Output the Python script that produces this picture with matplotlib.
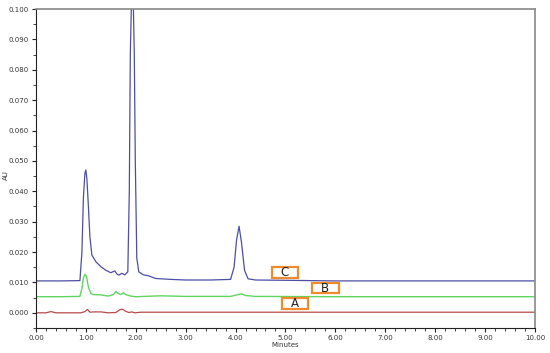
import matplotlib
matplotlib.use("Agg")
import matplotlib.pyplot as plt
from matplotlib.patches import Rectangle
from matplotlib.ticker import MultipleLocator, FormatStrFormatter

# Trace C (blue)
t_c = [0.0, 0.5, 0.88, 0.92, 0.95, 0.98, 1.0, 1.02, 1.05, 1.08, 1.12, 1.2, 1.3, 1.4, 1.5,
       1.58, 1.62, 1.66, 1.72, 1.78, 1.84, 1.87, 1.89, 1.91, 1.93, 1.95, 1.97, 1.99, 2.02,
       2.06, 2.15, 2.25, 2.4, 2.7, 3.0, 3.5, 3.9, 3.97, 4.02, 4.07, 4.12, 4.18, 4.25, 4.4,
       5.0, 6.0, 8.0, 10.0]
y_c = [0.0105, 0.0105, 0.0106, 0.020, 0.038, 0.046, 0.047, 0.044, 0.035, 0.025, 0.019, 0.0168,
       0.0152, 0.0140, 0.0132, 0.0138, 0.0128, 0.0124, 0.0130, 0.0125, 0.0135, 0.040, 0.085,
       0.100, 0.110, 0.102, 0.085, 0.050, 0.018, 0.0135, 0.0125, 0.0122, 0.0113, 0.0110, 0.0108,
       0.0108, 0.0110, 0.0150, 0.0240, 0.0285, 0.0230, 0.0140, 0.0112, 0.0108, 0.0107, 0.0105,
       0.0105, 0.0105]

# Trace B (green)
t_b = [0.0, 0.5, 0.88, 0.92, 0.95, 0.98, 1.01, 1.05, 1.1, 1.15, 1.3, 1.45, 1.55, 1.6, 1.65,
       1.7, 1.75, 1.8, 1.9, 2.0, 2.5, 3.0, 3.9, 4.05, 4.12, 4.2, 4.4, 6.0, 10.0]
y_b = [0.0053, 0.0053, 0.0054, 0.0080, 0.0115, 0.0127, 0.0120, 0.0085, 0.0063, 0.0060, 0.0059,
       0.0055, 0.0060, 0.0070, 0.0064, 0.0060, 0.0066, 0.0060, 0.0055, 0.0053, 0.0056, 0.0054,
       0.0054, 0.0060, 0.0062, 0.0057, 0.0054, 0.0053, 0.0053]

# Trace A (red)
t_a = [0.0, 0.2, 0.3, 0.4, 0.9, 0.98, 1.03, 1.08, 1.15, 1.3, 1.45, 1.6, 1.68, 1.73, 1.8,
       1.86, 1.92, 1.98, 2.1, 3.0, 6.0, 10.0]
y_a = [0.0000, 0.0000, 0.0004, 0.0000, 0.0000, 0.0004, 0.0011, 0.0002, 0.0003, 0.0003, 0.0000,
       0.0001, 0.0010, 0.0012, 0.0005, 0.0001, 0.0003, 0.0000, 0.0002, 0.0002, 0.0002, 0.0002]

labels = ["C", "B", "A"]
label_boxes_x = [(4.73, 5.25), (5.53, 6.07), (4.93, 5.45)]
label_boxes_y = [(0.0114, 0.0150), (0.0065, 0.0097), (0.0012, 0.0048)]

fig = plt.figure(figsize=(5.5, 3.53), dpi=100)
ax = fig.add_axes([0.0655, 0.0708, 0.907, 0.9037])

ax.plot(t_a, y_a, color="#b84a4a", lw=0.9)
ax.plot(t_b, y_b, color="#5fd65f", lw=1.0)
ax.plot(t_c, y_c, color="#4e4ea6", lw=0.9)

for lab, bx, by in zip(labels, label_boxes_x, label_boxes_y):
    ax.add_patch(Rectangle((bx[0], by[0]), bx[1] - bx[0], by[1] - by[0],
                           fill=False, edgecolor="#f08a2c", lw=1.6, zorder=5))
    ax.text((bx[0] + bx[1]) / 2, (by[0] + by[1]) / 2, lab, ha="center", va="center",
            fontsize=8.5, color="#222222", zorder=6)

ax.set_xlim(0, 10)
ax.set_ylim(-0.005, 0.100)
ax.xaxis.set_major_locator(MultipleLocator(1.0))
ax.xaxis.set_minor_locator(MultipleLocator(0.2))
ax.yaxis.set_major_locator(MultipleLocator(0.01))
ax.yaxis.set_minor_locator(MultipleLocator(0.005))
ax.xaxis.set_major_formatter(FormatStrFormatter("%.2f"))
ax.yaxis.set_major_formatter(FormatStrFormatter("%.3f"))
ax.tick_params(axis="both", which="major", labelsize=5, length=3, width=0.8, pad=2, colors="#222222")
ax.tick_params(axis="both", which="minor", length=2, width=0.6, colors="#222222")
ax.tick_params(labelcolor="#333333")

ax.spines["left"].set_color("#222222")
ax.spines["bottom"].set_color("#222222")
ax.spines["top"].set_color("#888888")
ax.spines["right"].set_color("#888888")
ax.spines["top"].set_linewidth(1.2)
ax.spines["right"].set_linewidth(1.2)

ax.set_xlabel("Minutes", fontsize=5, labelpad=1, color="#333333")
ax.set_ylabel("AU", fontsize=5, color="#333333")
ax.yaxis.set_label_coords(-0.055, 0.48)

fig.savefig("out.png", dpi=100)
